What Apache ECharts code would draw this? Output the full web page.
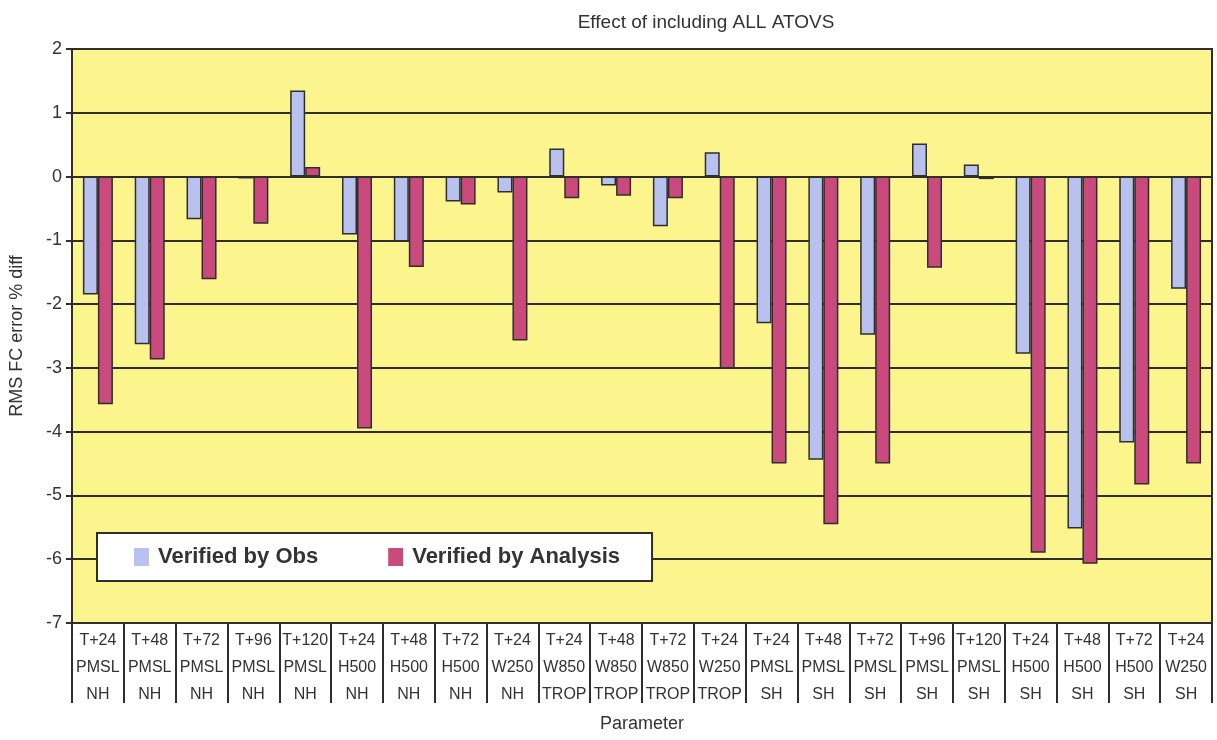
<!DOCTYPE html>
<html>
<head>
<meta charset="utf-8">
<title>Effect of including ALL ATOVS</title>
<script src="https://cdn.jsdelivr.net/npm/echarts@6/dist/echarts.min.js"></script>
<style>
  html, body { margin: 0; padding: 0; background: #fff; }
  #chart { width: 1217px; height: 740px; }
</style>
</head>
<body>
<div id="chart"></div>
<script>
// x-axis labels, three rows per category
const leadTimes = ["T+24", "T+48", "T+72", "T+96", "T+120", "T+24", "T+48", "T+72", "T+24",
  "T+24", "T+48", "T+72", "T+24",
  "T+24", "T+48", "T+72", "T+96", "T+120", "T+24", "T+48", "T+72", "T+24"];
const fields = ["PMSL", "PMSL", "PMSL", "PMSL", "PMSL", "H500", "H500", "H500", "W250",
  "W850", "W850", "W850", "W250",
  "PMSL", "PMSL", "PMSL", "PMSL", "PMSL", "H500", "H500", "H500", "W250"];
const regions = ["NH", "NH", "NH", "NH", "NH", "NH", "NH", "NH", "NH",
  "TROP", "TROP", "TROP", "TROP",
  "SH", "SH", "SH", "SH", "SH", "SH", "SH", "SH", "SH"];

// RMS FC error % diff
const verifiedByObs = [-1.85, -2.63, -0.67, -0.03, 1.35, -0.91, -1.02, -0.39, -0.25,
  0.44, -0.14, -0.78, 0.38,
  -2.30, -4.44, -2.48, 0.52, 0.19, -2.78, -5.52, -4.17, -1.76];
const verifiedByAnalysis = [-3.57, -2.87, -1.61, -0.74, 0.15, -3.95, -1.42, -0.44, -2.57,
  -0.34, -0.30, -0.34, -3.01,
  -4.50, -5.45, -4.50, -1.43, -0.04, -5.90, -6.07, -4.83, -4.50];

const categories = leadTimes.map((t, i) => t + "\n" + fields[i] + "\n" + regions[i]);

const chart = echarts.init(document.getElementById("chart"));
const ink = "#2e2e2e";

const option = {
  animation: false,
  textStyle: { fontFamily: "Liberation Sans, Arial, sans-serif", color: "#333" },
  title: {
    text: "Effect of including ALL ATOVS",
    left: 701,
    top: 8,
    textAlign: "center",
    textStyle: { fontSize: 19, fontWeight: "normal", color: "#333" }
  },
  legend: {
    left: 97,
    top: 533,
    orient: "horizontal",
    backgroundColor: "#ffffff",
    borderColor: ink,
    borderWidth: 2,
    padding: [13, 32, 13, 37],
    itemGap: 70,
    itemWidth: 15,
    itemHeight: 18,
    icon: "rect",
    itemStyle: { borderWidth: 0 },
    textStyle: { fontSize: 22, fontWeight: "bold", color: "#333", padding: [0, 0, 0, 4] },
    data: ["Verified by Obs", "Verified by Analysis"]
  },
  grid: {
    left: 72,
    right: 5,
    top: 49,
    bottom: 117,
    show: true,
    backgroundColor: "#fcf48c",
    borderColor: ink,
    borderWidth: 2
  },
  xAxis: {
    type: "category",
    data: categories,
    name: "Parameter",
    nameLocation: "middle",
    nameGap: 92,
    nameTextStyle: { fontSize: 18, color: "#333" },
    axisLine: { onZero: false, lineStyle: { color: ink, width: 2 } },
    axisTick: { show: true, interval: 0, length: 80, lineStyle: { color: ink, width: 2 } },
    axisLabel: { interval: 0, fontSize: 16, lineHeight: 27, margin: 4, color: "#333" }
  },
  yAxis: {
    type: "value",
    min: -7,
    max: 2,
    interval: 1,
    name: "RMS FC error % diff",
    nameLocation: "middle",
    nameGap: 46,
    nameTextStyle: { fontSize: 18, color: "#333" },
    axisLine: { show: true, lineStyle: { color: ink, width: 2 } },
    axisTick: { show: true, length: 6, lineStyle: { color: ink, width: 2 } },
    axisLabel: { fontSize: 18, margin: 10, color: "#333" },
    splitLine: { lineStyle: { color: ink, width: 2 } }
  },
  series: [
    {
      name: "Verified by Obs",
      type: "bar",
      barWidth: 15,
      barGap: "0%",
      itemStyle: { color: "#b9c2ee", borderColor: ink, borderWidth: 1.5 },
      data: verifiedByObs
    },
    {
      name: "Verified by Analysis",
      type: "bar",
      barWidth: 15,
      itemStyle: { color: "#cb4a7e", borderColor: ink, borderWidth: 1.5 },
      data: verifiedByAnalysis
    }
  ]
};

chart.setOption(option);
</script>
</body>
</html>
